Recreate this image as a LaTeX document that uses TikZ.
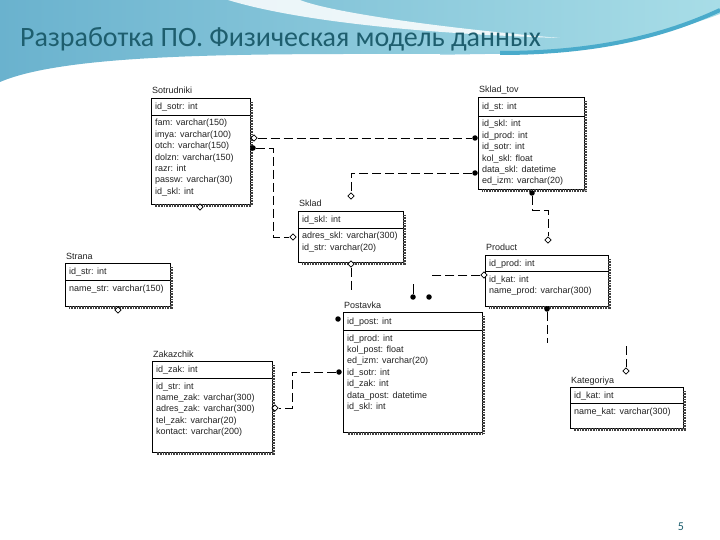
\documentclass[tikz,border=0pt]{standalone}
\usepackage{fontspec}
\setmainfont{Liberation Sans}
\newfontfamily\titlefont{Carlito}
\usetikzlibrary{calc,shapes.geometric}
\definecolor{titlecol}{HTML}{1E5E6E}
\definecolor{swA}{HTML}{6AB2CE}
\definecolor{swB}{HTML}{A8DDE7}
\definecolor{stripe}{HTML}{4AABCB}
\definecolor{txt}{HTML}{222222}
\tikzset{
  tbox/.style={draw=black, line width=0.8pt, inner sep=0pt, outer sep=0pt, fill=white},
  shadowline/.style={draw=black!75, line width=2.6pt, dash pattern=on 0.8pt off 0.8pt},
  sepline/.style={draw=black, line width=0.8pt},
  ttitle/.style={anchor=base west, inner sep=0pt, font=\fontsize{9}{11}\selectfont, text=txt},
  trow/.style={anchor=base west, inner sep=0pt, font=\fontsize{9}{11}\selectfont, text=txt},
  fdot/.style={circle, fill=black, inner sep=0pt, minimum size=5.5pt},
  odia/.style={diamond, draw=black, fill=white, inner sep=0pt, minimum size=6.5pt, line width=0.6pt},
  conn/.style={draw=black, line width=0.9pt, dash pattern=on 9pt off 4pt},
}
\newcommand{\ertable}[9]{%
  \node[tbox, minimum width=#4, minimum height=#5, anchor=north west] (#1) at (#2,#3) {};
  \draw[shadowline] ($(#1.north east)+(1.6,4)$) -- ($(#1.south east)+(1.6,1.6)$) -- ($(#1.south west)+(4,1.6)$);
  \node[ttitle] (#1-t) at ($(#1.north west)+(1,-4)$) {#7};
  \draw[sepline] ($(#1.north west)+(0,#6)$) -- ++(#4,0);
  \node[trow] (#1-k) at ($(#1.north west)+(4,{#6/2+3})$) {#8};
  \foreach \r [count=\i] in {#9} {
    \node[trow] (#1-\i) at ($(#1.north west)+(4,{#6+11+(\i-1)*11.4})$) {\r};
  }%
}
\begin{document}
\begin{tikzpicture}[x=1pt,y=-1pt]
\useasboundingbox (0,0) rectangle (720,540);
\fill[white] (0,0) rectangle (720,540);
% header swoosh
\shade[left color=swA, right color=swB] (0,0) -- (720,0) -- (720,14) .. controls (640,44) and (560,54) .. (440,54) .. controls (260,54) and (70,52) .. (0,82) -- cycle;
\fill[white, opacity=0.85] (228,0) .. controls (300,22) and (430,34) .. (560,38) .. controls (440,28) and (330,12) .. (300,0) -- cycle;
\draw[line width=4pt, stripe] (500,53) .. controls (590,53) and (660,38) .. (720,10);
\draw[line width=1.5pt, stripe!60] (440,54) -- (500,53);
\node[anchor=base west, inner sep=0pt, font=\titlefont\fontsize{28}{32}\selectfont, text=titlecol] (title) at (20,47) {Разработка ПО. Физическая модель данных};
\node[anchor=base, inner sep=0pt, font=\titlefont\fontsize{12}{14}\selectfont, text=titlecol] (pnum) at (681,530) {5};

% tables
\ertable{sotr}{151}{98}{99}{106}{17}{Sotrudniki}{id\_sotr: int}{fam: varchar(150), imya: varchar(100), otch: varchar(150), dolzn: varchar(150), razr: int, passw: varchar(30), id\_skl: int}
\ertable{skladtov}{478}{97}{106}{92}{19}{Sklad\_tov}{id\_st: int}{id\_skl: int, id\_prod: int, id\_sotr: int, kol\_skl: float, data\_skl: datetime, ed\_izm: varchar(20)}
\ertable{sklad}{298}{211}{105}{51}{17}{Sklad}{id\_skl: int}{adres\_skl: varchar(300), id\_str: varchar(20)}
\ertable{strana}{65}{263}{105}{43}{17}{Strana}{id\_str: int}{name\_str: varchar(150)}
\ertable{product}{485}{255}{123}{51}{16}{Product}{id\_prod: int}{id\_kat: int, name\_prod: varchar(300)}
\ertable{postavka}{343}{312}{139}{120}{18}{Postavka}{id\_post: int}{id\_prod: int, kol\_post: float, ed\_izm: varchar(20), id\_sotr: int, id\_zak: int, data\_post: datetime, id\_skl: int}
\ertable{zak}{152}{361}{120}{91}{17}{Zakazchik}{id\_zak: int}{id\_str: int, name\_zak: varchar(300), adres\_zak: varchar(300), tel\_zak: varchar(20), kontact: varchar(200)}
\ertable{kat}{570}{387}{113}{41}{16}{Kategoriya}{id\_kat: int}{name\_kat: varchar(300)}

% markers
\node[odia] (m1) at (254,138) {};
\node[fdot] (d1) at (475,138) {};
\node[fdot] (d2) at (253,148) {};
\node[odia] (m2) at (293,237) {};
\node[fdot] (d3) at (475,173) {};
\node[odia] (m3) at (351,196) {};
\node[odia] (m4) at (351,264) {};
\node[fdot] (d4) at (338,319) {};
\node[fdot] (d5) at (339,372) {};
\node[odia] (m5) at (275,408) {};
\node[fdot] (d6) at (532,193) {};
\node[odia] (m6) at (548,240) {};
\node[odia] (m7) at (484,275) {};
\node[fdot] (d7) at (413,297) {};
\node[fdot] (d8) at (429,297) {};
\node[fdot] (d9) at (547,309) {};
\node[odia] (m9) at (626,371) {};
\node[odia] (m10) at (118,310) {};
\node[odia] (m11) at (200,207) {};
\coordinate (e4) at (351,290);
\coordinate (e7) at (430,275);
\coordinate (e7b) at (413,284);
\coordinate (e9) at (547,343);
\coordinate (e9b) at (626,346);

% connectors
\draw[conn] (m1) -- (d1);
\draw[conn] (d2) -- (273,148) -- (273,237) -- (m2);
\draw[conn] (d3) -- (351,173) -- (m3);
\draw[conn] (m4) -- (e4);
\draw[conn] (d5) -- (292,372) -- (292,408) -- (m5);
\draw[conn] (d6) -- (532,210) -- (548,210) -- (m6);
\draw[conn] (m7) -- (e7);
\draw[line width=0.9pt] (e7b) -- (d7);
\draw[conn] (d9) -- (e9);
\draw[conn] (e9b) -- (m9);
\end{tikzpicture}
\end{document}
